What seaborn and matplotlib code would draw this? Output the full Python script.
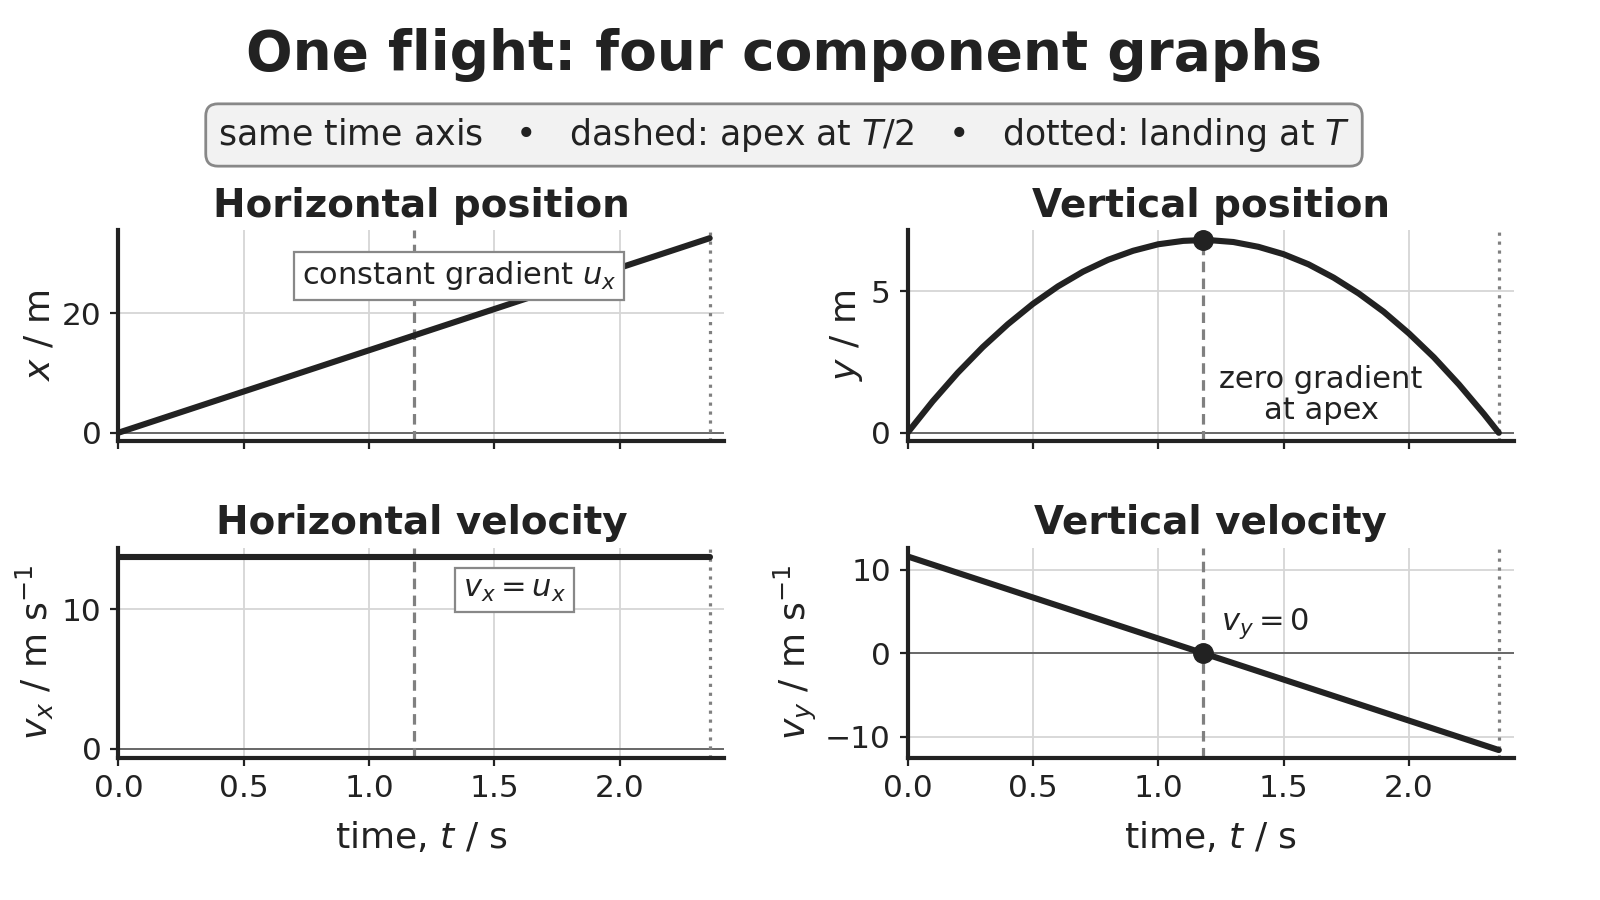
import matplotlib
matplotlib.use("Agg")
import matplotlib.pyplot as plt
import seaborn as sns

# ---------------- data ----------------
t_line = [0.0, 2.359]             # start and landing time, s
x_line = [0.0, 32.5]              # horizontal position, m
vx_line = [13.79, 13.79]          # horizontal velocity, m/s
vy_line = [11.57, -11.57]         # vertical velocity, m/s

t_curve = [0.0, 0.1, 0.2, 0.3, 0.4, 0.5, 0.6, 0.7, 0.8, 0.9, 1.0, 1.1, 1.18,
           1.2, 1.3, 1.4, 1.5, 1.6, 1.7, 1.8, 1.9, 2.0, 2.1, 2.2, 2.3, 2.359]
y_curve = [0.0, 1.11, 2.12, 3.03, 3.84, 4.56, 5.18, 5.70, 6.12, 6.44, 6.67,
           6.79, 6.82, 6.82, 6.75, 6.58, 6.32, 5.96, 5.49, 4.93, 4.28, 3.52,
           2.67, 1.71, 0.66, 0.0]

t_apex = 1.18
y_apex = 6.82
t_land = 2.359

xticks = [0.0, 0.5, 1.0, 1.5, 2.0]
yticks_x = [0, 20]
yticks_y = [0, 5]
yticks_vx = [0, 10]
yticks_vy = [-10, 0, 10]

INK = "#222222"
GREY = "#808080"

sns.set_theme(style="whitegrid", rc={
    "axes.edgecolor": INK,
    "axes.linewidth": 3.0,
    "grid.color": "#d6d6d6",
    "grid.linewidth": 1.3,
    "xtick.bottom": True,
    "ytick.left": True,
    "xtick.major.size": 6,
    "ytick.major.size": 6,
    "xtick.major.width": 1.6,
    "ytick.major.width": 1.6,
    "xtick.color": INK,
    "ytick.color": INK,
    "text.color": INK,
    "axes.labelcolor": INK,
})
plt.rcParams["font.family"] = ["DejaVu Sans"]
plt.rcParams["mathtext.fontset"] = "dejavusans"

fig, axes = plt.subplots(2, 2, figsize=(16, 9), dpi=100, sharex=True)
fig.subplots_adjust(left=0.074, right=0.946, top=0.744, bottom=0.158,
                    wspace=0.302, hspace=0.51)
ax_x, ax_y = axes[0]
ax_vx, ax_vy = axes[1]

LW = 4.4
sns.lineplot(x=t_line, y=x_line, ax=ax_x, color=INK, linewidth=LW)
sns.lineplot(x=t_curve, y=y_curve, ax=ax_y, color=INK, linewidth=LW)
sns.lineplot(x=t_line, y=vx_line, ax=ax_vx, color=INK, linewidth=LW)
sns.lineplot(x=t_line, y=vy_line, ax=ax_vy, color=INK, linewidth=LW)

for ax in axes.flat:
    ax.axhline(0, color="#555555", lw=1.2, zorder=1.5)
    ax.axvline(t_apex, color=GREY, lw=2.3, ls=(0, (3.3, 2.0)), zorder=1.6)
    ax.axvline(t_land, color=GREY, lw=2.3, ls=(0, (1, 1.8)), zorder=1.6)
    ax.set_xlim(0, 1.025 * t_land)
    ax.set_xticks(xticks)
    ax.tick_params(labelsize=22.5, pad=6)
    sns.despine(ax=ax)
    ax.set_xlabel("")

ax_y.plot([t_apex], [y_apex], "o", color=INK, ms=14, zorder=5)
ax_vy.plot([t_apex], [0], "o", color=INK, ms=14, zorder=5)

ax_x.set_ylim(-0.04 * max(x_line), 1.04 * max(x_line))
ax_y.set_ylim(-0.04 * y_apex, 1.05 * y_apex)
ax_vx.set_ylim(-0.046 * max(vx_line), 1.046 * max(vx_line))
ax_vy.set_ylim(-1.08 * max(vy_line), 1.09 * max(vy_line))

ax_x.set_yticks(yticks_x)
ax_y.set_yticks(yticks_y)
ax_vx.set_yticks(yticks_vx)
ax_vy.set_yticks(yticks_vy)

ax_x.set_title("Horizontal position", fontsize=28, fontweight="bold", pad=10)
ax_y.set_title("Vertical position", fontsize=28, fontweight="bold", pad=10)
ax_vx.set_title("Horizontal velocity", fontsize=28, fontweight="bold", pad=10)
ax_vy.set_title("Vertical velocity", fontsize=28, fontweight="bold", pad=10)

ax_x.set_ylabel(r"$x$ / m", fontsize=26)
ax_y.set_ylabel(r"$y$ / m", fontsize=26)
ax_vx.set_ylabel(r"$v_x$ / m s$^{-1}$", fontsize=26)
ax_vy.set_ylabel(r"$v_y$ / m s$^{-1}$", fontsize=26)
ax_vx.set_xlabel(r"time, $t$ / s", fontsize=26, labelpad=12)
ax_vy.set_xlabel(r"time, $t$ / s", fontsize=26, labelpad=12)

box = dict(boxstyle="square,pad=0.25", fc="white", ec="#888888", lw=1.6)
ax_x.text(1.36, 26.2, r"constant gradient $u_x$", ha="center", va="center",
          fontsize=22, bbox=box, zorder=6)
ax_y.text(1.65, 1.35, "zero gradient\nat apex", ha="center", va="center",
          fontsize=22, linespacing=1.1, zorder=6)
ax_vx.text(1.58, 11.4, r"$v_x = u_x$", ha="center", va="center",
           fontsize=22, bbox=box, zorder=6)
ax_vy.text(1.25, 3.6, r"$v_y = 0$", ha="left", va="center",
           fontsize=22, zorder=6)

fig.text(0.49, 1 - 55 / 900, "One flight: four component graphs",
         ha="center", va="center", fontsize=39.5, fontweight="bold")
fig.text(0.49, 1 - 135 / 900,
         r"same time axis   •   dashed: apex at $T/2$   •   dotted: landing at $T$",
         ha="center", va="center", fontsize=25,
         bbox=dict(boxstyle="round,pad=0.35", fc="#f2f2f2", ec="#888888", lw=2))

fig.savefig("out.png", dpi=100)
